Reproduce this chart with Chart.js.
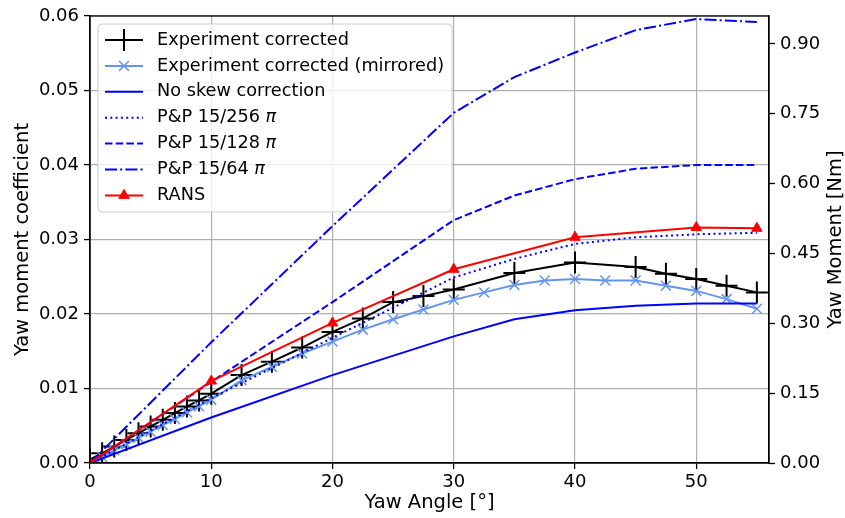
<!DOCTYPE html>
<html>
<head>
<meta charset="utf-8">
<script src="https://cdn.jsdelivr.net/npm/chart.js@4.4.1/dist/chart.umd.min.js"></script>
<style>
html, body { margin: 0; padding: 0; background: #fff; }
</style>
</head>
<body>
<canvas id="yawChart" width="845" height="518"></canvas>
<script>
// yaw angles [deg] and yaw moment coefficients
const expAngles = [0, 1, 2, 3, 4, 5, 6, 7, 8, 9, 10, 12.5, 15, 17.5, 20, 22.5, 25, 27.5, 30, 35, 40, 45, 47.5, 50, 52.5, 55];
const expCoef = [0.0005, 0.0013, 0.0022, 0.0031, 0.0040, 0.0049, 0.0058, 0.0067, 0.0076, 0.0084, 0.0093,
  0.0118, 0.0136, 0.0155, 0.0176, 0.0194, 0.0216, 0.0224, 0.0233,
  0.0255, 0.0269, 0.0263, 0.0254, 0.0247, 0.0238, 0.0229];

const mirAngles = [0, 1, 2, 3, 4, 5, 6, 7, 8, 9, 10, 12.5, 15, 17.5, 20, 22.5, 25, 27.5, 30, 32.5, 35, 37.5, 40, 42.5, 45, 47.5, 50, 52.5, 55];
const mirCoef = [0, 0.0008, 0.0017, 0.0025, 0.0034, 0.0042, 0.0051, 0.0059, 0.0068, 0.0076, 0.0085,
  0.0111, 0.0129, 0.0147, 0.0163, 0.0179, 0.0193, 0.0206, 0.0219, 0.0229, 0.0239, 0.0245,
  0.0247, 0.0245, 0.0245, 0.0238, 0.0231, 0.0220, 0.0207];

const modelAngles = [0, 10, 20, 30, 35, 40, 45, 50, 55];
const noSkew = [0, 0.0061, 0.0118, 0.0170, 0.0193, 0.0205, 0.0211, 0.0214, 0.0214];
const pp256 = [0, 0.0087, 0.0168, 0.0249, 0.0274, 0.0294, 0.0303, 0.0307, 0.0309];
const pp128 = [0, 0.0109, 0.0216, 0.0326, 0.0359, 0.0381, 0.0395, 0.0400, 0.0400];
const pp64 = [0, 0.0162, 0.0318, 0.0470, 0.0518, 0.0551, 0.0581, 0.0596, 0.0592];

const ransAngles = [0, 10, 20, 30, 40, 50, 55];
const ransCoef = [0, 0.0110, 0.0188, 0.0260, 0.0303, 0.0316, 0.0315];

const angleTicks = [0, 10, 20, 30, 40, 50];
const coefTicks = [0, 0.01, 0.02, 0.03, 0.04, 0.05, 0.06];
const momentTicks = [0, 0.15, 0.30, 0.45, 0.60, 0.75, 0.90];

function pts(xs, ys) {
  return xs.map((x, i) => ({ x: x, y: ys[i] }));
}

const FONT = 'DejaVu Sans';
Chart.defaults.font.family = FONT;
Chart.defaults.font.size = 18;
Chart.defaults.color = '#000';

function lineSet(label, xs, ys, color, dash, order) {
  return {
    label: label,
    data: pts(xs, ys),
    borderColor: color,
    backgroundColor: color,
    borderWidth: 2,
    borderDash: dash,
    pointRadius: 0,
    order: order,
    clip: 0
  };
}

const datasets = [
  {
    label: 'Experiment corrected',
    data: pts(expAngles, expCoef),
    borderColor: '#000',
    backgroundColor: '#000',
    borderWidth: 2,
    pointStyle: 'cross',
    pointRadius: 11,
    pointBorderWidth: 2,
    order: 6,
    clip: 0
  },
  {
    label: 'Experiment corrected (mirrored)',
    data: pts(mirAngles, mirCoef),
    borderColor: '#6495ed',
    backgroundColor: '#6495ed',
    borderWidth: 2,
    pointStyle: 'crossRot',
    pointRadius: 7,
    pointBorderWidth: 1.5,
    order: 5,
    clip: 0
  },
  lineSet('No skew correction', modelAngles, noSkew, '#0000ff', [], 4),
  lineSet('P&P 15/256 π', modelAngles, pp256, '#0000ff', [2, 3.3], 3),
  lineSet('P&P 15/128 π', modelAngles, pp128, '#0000ff', [7.5, 3.2], 2),
  lineSet('P&P 15/64 π', modelAngles, pp64, '#0000ff', [12, 3.2, 2, 3.2], 1),
  {
    label: 'RANS',
    data: pts(ransAngles, ransCoef),
    borderColor: '#ff0000',
    backgroundColor: '#ff0000',
    borderWidth: 2,
    pointStyle: 'triangle',
    pointRadius: 6,
    pointBorderWidth: 1,
    order: 0,
    clip: 0
  }
];

// frame, axis titles and the boxed legend, drawn the matplotlib way
function drawMarker(ctx, ds, x, y) {
  const r = ds.pointRadius || 0;
  if (!r) return;
  ctx.save();
  ctx.strokeStyle = ds.borderColor;
  ctx.fillStyle = ds.backgroundColor;
  ctx.lineWidth = ds.pointBorderWidth || 1;
  ctx.setLineDash([]);
  ctx.beginPath();
  if (ds.pointStyle === 'cross') {
    ctx.moveTo(x - r, y); ctx.lineTo(x + r, y);
    ctx.moveTo(x, y - r); ctx.lineTo(x, y + r);
    ctx.stroke();
  } else if (ds.pointStyle === 'crossRot') {
    const d = r * Math.SQRT1_2;
    ctx.moveTo(x - d, y - d); ctx.lineTo(x + d, y + d);
    ctx.moveTo(x + d, y - d); ctx.lineTo(x - d, y + d);
    ctx.stroke();
  } else if (ds.pointStyle === 'triangle') {
    for (let k = 0; k < 3; k++) {
      const a = k * 2 * Math.PI / 3;
      const px = x + Math.sin(a) * r, py = y - Math.cos(a) * r;
      if (k === 0) ctx.moveTo(px, py); else ctx.lineTo(px, py);
    }
    ctx.closePath();
    ctx.fill();
    ctx.stroke();
  }
  ctx.restore();
}

function roundRect(ctx, x, y, w, h, r) {
  ctx.beginPath();
  ctx.moveTo(x + r, y);
  ctx.lineTo(x + w - r, y);
  ctx.arcTo(x + w, y, x + w, y + r, r);
  ctx.lineTo(x + w, y + h - r);
  ctx.arcTo(x + w, y + h, x + w - r, y + h, r);
  ctx.lineTo(x + r, y + h);
  ctx.arcTo(x, y + h, x, y + h - r, r);
  ctx.lineTo(x, y + r);
  ctx.arcTo(x, y, x + r, y, r);
  ctx.closePath();
}

const LEGEND_SIZE = 17.7;
const TITLE_SIZE = 19.5;

const decorPlugin = {
  id: 'decor',
  beforeDatasetsDraw(chart) {
    // legend box sits over the grid but under the curves
    const ctx = chart.ctx;
    const bx = 98, by = 24, bw = 354, bh = 188;
    ctx.save();
    roundRect(ctx, bx, by, bw, bh, 4);
    ctx.fillStyle = 'rgba(255,255,255,0.8)';
    ctx.fill();
    ctx.strokeStyle = '#cccccc';
    ctx.lineWidth = 1;
    ctx.stroke();

    const rowH = 25.9;
    chart.data.datasets.forEach((ds, i) => {
      const y = 40 + i * rowH;
      ctx.save();
      ctx.strokeStyle = ds.borderColor;
      ctx.lineWidth = ds.borderWidth;
      ctx.setLineDash(ds.borderDash || []);
      ctx.beginPath();
      ctx.moveTo(105, y);
      ctx.lineTo(143, y);
      ctx.stroke();
      ctx.restore();
      drawMarker(ctx, ds, 124, y);

      ctx.fillStyle = '#000';
      ctx.textAlign = 'left';
      ctx.textBaseline = 'middle';
      const parts = ds.label.split('π');
      ctx.font = LEGEND_SIZE + 'px "' + FONT + '"';
      ctx.fillText(parts[0], 157, y);
      if (parts.length > 1) {
        const w = ctx.measureText(parts[0]).width;
        ctx.font = 'italic ' + LEGEND_SIZE + 'px "' + FONT + '"';
        ctx.fillText('π', 157 + w, y);
      }
    });
    ctx.restore();
  },
  afterDatasetsDraw(chart) {
    const ctx = chart.ctx;
    const a = chart.chartArea;
    ctx.save();
    ctx.strokeStyle = '#000';
    ctx.lineWidth = 1.3;
    ctx.strokeRect(a.left, a.top, a.right - a.left, a.bottom - a.top);
    ctx.restore();
  },
  afterDraw(chart) {
    const ctx = chart.ctx;
    const a = chart.chartArea;
    const midY = (a.top + a.bottom) / 2;

    ctx.save();
    ctx.fillStyle = '#000';
    ctx.font = TITLE_SIZE + 'px "' + FONT + '"';
    ctx.textAlign = 'center';
    ctx.textBaseline = 'middle';
    ctx.fillText('Yaw Angle [°]', (a.left + a.right) / 2, 503);

    ctx.translate(23, midY);
    ctx.rotate(-Math.PI / 2);
    ctx.fillText('Yaw moment coefficient', 0, 0);
    ctx.restore();

    ctx.save();
    ctx.fillStyle = '#000';
    ctx.font = TITLE_SIZE + 'px "' + FONT + '"';
    ctx.textAlign = 'center';
    ctx.textBaseline = 'middle';
    ctx.translate(836, midY);
    ctx.rotate(-Math.PI / 2);
    ctx.fillText('Yaw Moment [Nm]', 0, 0);
    ctx.restore();
  }
};

const gridColor = '#b0b0b0';

new Chart(document.getElementById('yawChart'), {
  type: 'line',
  data: { datasets: datasets },
  options: {
    responsive: false,
    animation: false,
    events: [],
    layout: { padding: { top: 16, left: 0, right: 0, bottom: 0 } },
    plugins: {
      legend: { display: false },
      tooltip: { enabled: false }
    },
    scales: {
      x: {
        type: 'linear',
        min: 0,
        max: 56,
        afterBuildTicks: s => { s.ticks = angleTicks.map(v => ({ value: v })); },
        afterFit: s => { s.height = 55; },
        ticks: { padding: 3, maxRotation: 0, callback: v => String(v) },
        grid: { color: gridColor, lineWidth: 1.2, tickColor: '#000', tickLength: 6, tickWidth: 1.3 },
        border: { color: '#000', width: 1.3 }
      },
      y: {
        type: 'linear',
        position: 'left',
        min: 0,
        max: 0.06,
        afterBuildTicks: s => { s.ticks = coefTicks.map(v => ({ value: v })); },
        afterFit: s => { s.width = 90; },
        ticks: { padding: 5, callback: v => v.toFixed(2) },
        grid: { color: gridColor, lineWidth: 1.2, tickColor: '#000', tickLength: 6, tickWidth: 1.3 },
        border: { color: '#000', width: 1.3 }
      },
      y2: {
        type: 'linear',
        position: 'right',
        min: 0,
        max: 0.96,
        afterBuildTicks: s => { s.ticks = momentTicks.map(v => ({ value: v })); },
        afterFit: s => { s.width = 76; },
        ticks: { padding: 5, callback: v => v.toFixed(2) },
        grid: { drawOnChartArea: false, tickColor: '#000', tickLength: 6, tickWidth: 1.3 },
        border: { color: '#000', width: 1.3 }
      }
    }
  },
  plugins: [decorPlugin]
});
</script>
</body>
</html>
